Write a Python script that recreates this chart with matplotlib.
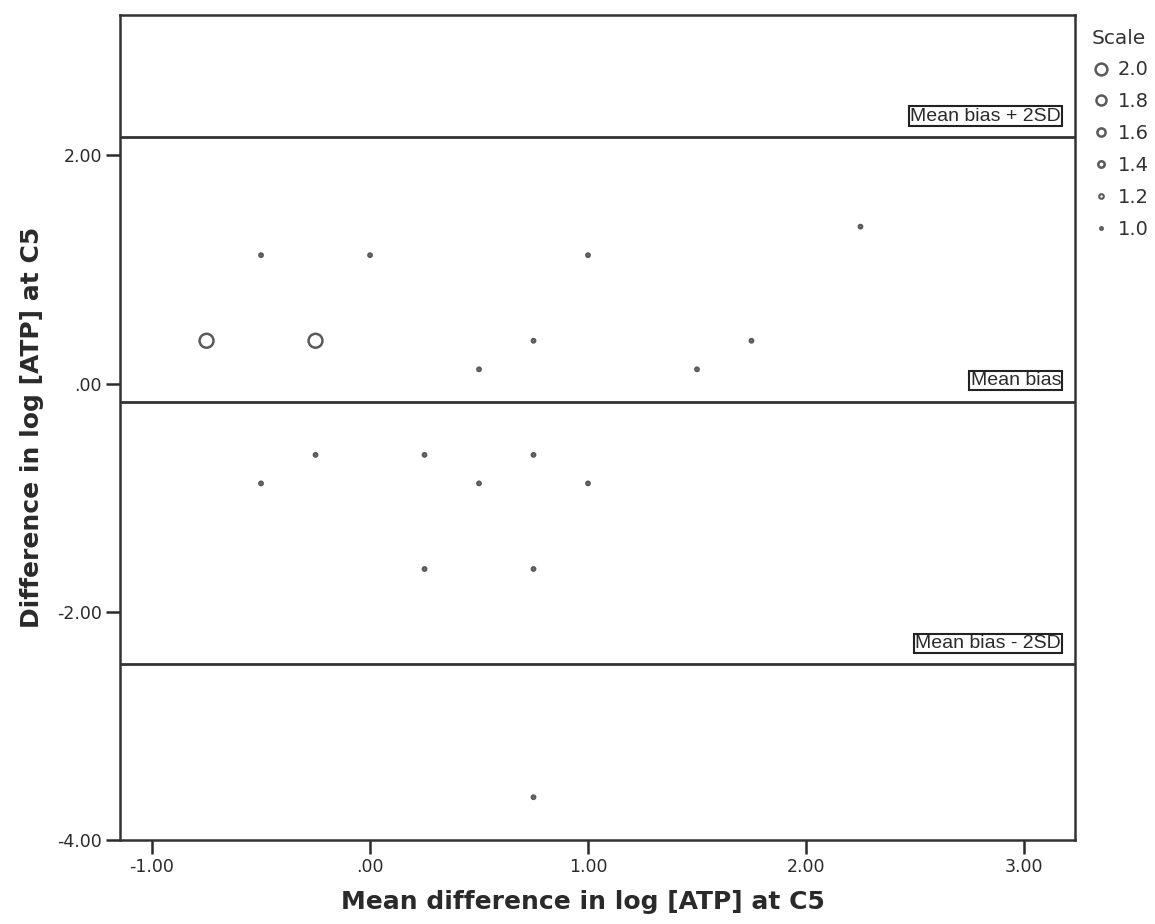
import matplotlib.pyplot as plt
from matplotlib.lines import Line2D

plt.rcParams["font.family"] = ["DejaVu Sans"]

# points of the Bland-Altman plot
mean_diff = [-0.75, -0.25, -0.5, 0.0, 1.0, 2.25, 0.75, 1.75, 0.5, 1.5,
             -0.25, 0.25, 0.75, -0.5, 0.5, 1.0, 0.25, 0.75, 0.75]
difference = [0.375, 0.375, 1.125, 1.125, 1.125, 1.375, 0.375, 0.375, 0.125, 0.125,
              -0.625, -0.625, -0.625, -0.875, -0.875, -0.875, -1.625, -1.625, -3.625]
scale = [2.0, 2.0, 1.0, 1.0, 1.0, 1.0, 1.0, 1.0, 1.0, 1.0,
         1.0, 1.0, 1.0, 1.0, 1.0, 1.0, 1.0, 1.0, 1.0]

ref_lines = {"Mean bias + 2SD": 2.16, "Mean bias": -0.16, "Mean bias - 2SD": -2.46}
legend_scales = [2.0, 1.8, 1.6, 1.4, 1.2, 1.0]

x_ticks = [-1.0, 0.0, 1.0, 2.0, 3.0]
x_ticklabels = ["-1.00", ".00", "1.00", "2.00", "3.00"]
y_ticks = [-4.0, -2.0, 0.0, 2.0]
y_ticklabels = ["-4.00", "-2.00", ".00", "2.00"]

PT_COLOR = "#5a5a5a"
LINE_COLOR = "#333333"
TXT = "#2a2a2a"


def msize(s):
    return 2.4 + (s - 1.0) * 7.6


fig = plt.figure(figsize=(11.55, 9.24), dpi=100)
ax = fig.add_axes([0.1039, 0.0909, 0.8268, 0.8929])

ax.scatter(mean_diff, difference, s=[msize(v) ** 2 for v in scale],
           facecolors="white", edgecolors=PT_COLOR, linewidths=1.8, zorder=3)

for label, yv in ref_lines.items():
    ax.axhline(yv, color=LINE_COLOR, lw=2.0, zorder=2)
    ax.text(3.17, yv + 0.11, label, ha="right", va="bottom", fontsize=14,
            color=TXT, family="Liberation Sans",
            bbox=dict(boxstyle="square,pad=0.06", fc="white", ec="#222222", lw=1.5))

ax.set_xlim(-1.147, 3.234)
ax.set_ylim(-4.0, 3.23)
ax.set_xticks(x_ticks)
ax.set_xticklabels(x_ticklabels)
ax.set_yticks(y_ticks)
ax.set_yticklabels(y_ticklabels)
ax.tick_params(direction="out", length=10, width=1.8, labelsize=12.5,
               colors=TXT, pad=3)

for sp in ax.spines.values():
    sp.set_linewidth(1.8)
    sp.set_color("#333333")

ax.set_xlabel("Mean difference in log [ATP] at C5", fontsize=18, fontweight="bold",
              color=TXT)
ax.set_ylabel("Difference in log [ATP] at C5", fontsize=18, fontweight="bold",
              color=TXT)
ax.xaxis.set_label_coords(0.485, -0.061)
ax.yaxis.set_label_coords(-0.08, 0.5)

handles = [Line2D([], [], ls="none", marker="o", markersize=msize(v) * 0.85,
                  markerfacecolor="white", markeredgecolor=PT_COLOR,
                  markeredgewidth=1.8 if v > 1.3 else 1.5)
           for v in legend_scales]
leg = ax.legend(handles, [f"{v:.1f}" for v in legend_scales], title="Scale",
                loc="upper left", bbox_to_anchor=(1.003, 1.0), frameon=False,
                fontsize=14, title_fontsize=14.5, handletextpad=0.35,
                handlelength=1.0, labelspacing=0.66, borderaxespad=0.3)
leg._legend_box.align = "left"
for t in leg.get_texts():
    t.set_color("#333333")
leg.get_title().set_color("#333333")

fig.savefig("out.png", dpi=100)
